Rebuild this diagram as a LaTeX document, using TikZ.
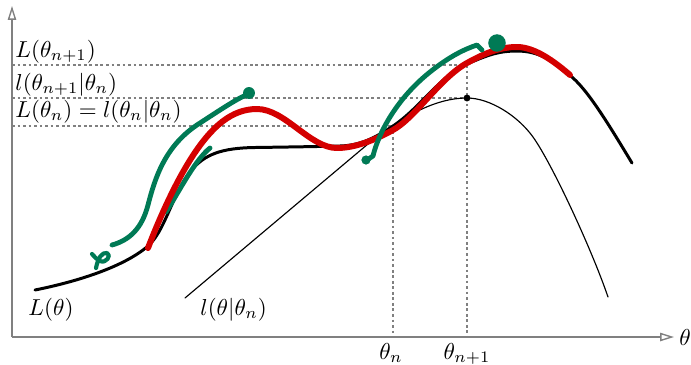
\documentclass[tikz,border=0pt]{standalone}
\usetikzlibrary{arrows.meta}
\definecolor{mred}{HTML}{D40000}
\definecolor{mgreen}{HTML}{007A55}
\definecolor{axgray}{HTML}{808080}
\begin{document}
\begin{tikzpicture}[x=0.434pt,y=-0.434pt,
  axis/.style={draw=axgray,line width=0.6pt,-{Triangle[open,length=6pt,width=3.6pt]}},
  guide/.style={draw=axgray,line width=0.45pt,dash pattern=on 1.2pt off 1.2pt},
  bigL/.style={line width=1.3pt,line cap=round,line join=round},
  smallL/.style={line width=0.5pt,line cap=round},
  redpen/.style={draw=mred,line width=2.6pt,line cap=round,line join=round},
  greenpen/.style={draw=mgreen,line width=2.1pt,line cap=round,line join=round},
  lab/.style={inner sep=0pt,anchor=base west}]
\useasboundingbox (0,0) rectangle (691,364);

% axes
\coordinate (O) at (12,337);
\coordinate (ytop) at (12,6);
\coordinate (xend) at (674,337);
\draw[axis] (O) -- (ytop);
\draw[axis] (O) -- (xend);

% guide points
\coordinate (h1) at (12,65);  \coordinate (p1) at (467,65);
\coordinate (h2) at (12,98);  \coordinate (p2) at (467,98);
\coordinate (h3) at (12,126); \coordinate (p3) at (393,126);
\coordinate (b1) at (393,337); \coordinate (b2) at (467,337);
\draw[guide] (h1) -- (p1);
\draw[guide] (h2) -- (p2);
\draw[guide] (h3) -- (p3);
\draw[guide] (p3) -- (b1);
\draw[guide] (p1) -- (b2);

% labels
\node[lab] (lab1) at (15,57) {$L(\theta_{n+1})$};
\node[lab] (lab2) at (15,90) {$l(\theta_{n+1}|\theta_n)$};
\node[lab] (lab3) at (15,117) {$L(\theta_n)=l(\theta_n|\theta_n)$};
\node[anchor=base,inner sep=0pt] (tn) at (391,359) {$\theta_n$};
\node[anchor=base,inner sep=0pt] (tn1) at (467,359) {$\theta_{n+1}$};
\node[anchor=west,inner sep=0pt] (tx) at (679,337) {$\theta$};
\node[lab] (lL) at (28,315) {$L(\theta)$};
\node[lab] (ll) at (200,315) {$l(\theta|\theta_n)$};

% thin curve l(theta|theta_n)
\draw[smallL] (185,298) -- (362,149)
  .. controls (400,117) and (435,98) .. (p2)
  .. controls (490,98) and (518,116) .. (533,137)
  .. controls (552,163.5) and (592,250) .. (608,297);
\fill (p2) circle (1.5pt);

% thick curve L(theta)
\draw[bigL] (35,290) .. controls (80,281) and (125,266) .. (148,246)
  .. controls (165,231) and (172,195) .. (190,172)
  .. controls (204,154) and (222,148) .. (255,147.5)
  .. controls (290,147) and (320,146.5) .. (340,146)
  .. controls (360,145.5) and (375,138) .. (393,126)
  .. controls (420,108) and (440,76) .. (467,64)
  .. controls (490,54) and (500,51) .. (517,51)
  .. controls (540,51) and (555,62) .. (573,78)
  .. controls (590,93) and (612,130) .. (632,163);

% green stroke under red
\draw[greenpen] (166,212) .. controls (180,190) and (195,160) .. (210,148);

% red curve
\draw[redpen] (148,248) .. controls (158,222) and (174,185) .. (192,157)
  .. controls (212,126) and (232,109) .. (257,109)
  .. controls (285,109) and (310,148) .. (337,148)
  .. controls (355,148) and (375,140) .. (393,130)
  .. controls (415,118) and (440,78) .. (467,63)
  .. controls (485,53) and (500,47) .. (517,47)
  .. controls (535,47) and (555,62) .. (570,75);

% green strokes on top
\draw[greenpen] (112,245) .. controls (130,240) and (142,228) .. (148,205)
  .. controls (155,178) and (165,145) .. (200,123)
  .. controls (220,110) and (235,100) .. (246,95);
\fill[mgreen] (249,93) circle (2.6pt);
\draw[greenpen,line width=1.8pt] (96,268) .. controls (98,258) and (102,252) .. (107,253) .. controls (112,255) and (106,264) .. (100,261) .. controls (96,259) and (94,256) .. (92,254);
\draw[greenpen] (367,160) -- (373,156)
  .. controls (378,135) and (395,100) .. (430,72)
  .. controls (450,56) and (465,49) .. (477,45) -- (482,50);
\fill[mgreen] (366,160) circle (2pt);
\fill[mgreen] (497,43) circle (3.8pt);
\end{tikzpicture}
\end{document}
